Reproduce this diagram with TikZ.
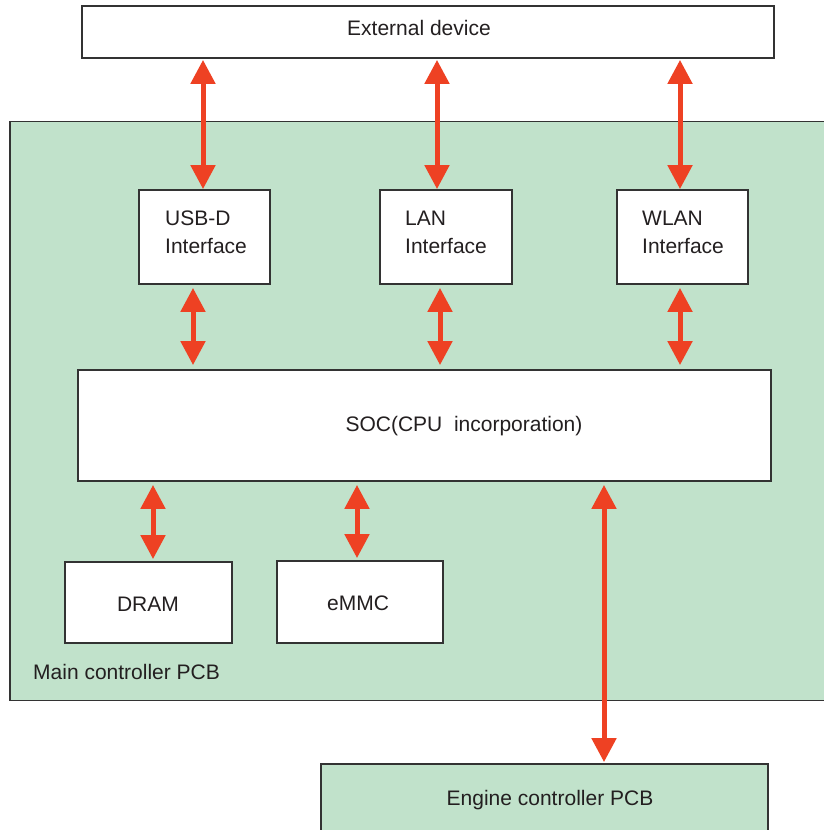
\documentclass[tikz,border=0pt]{standalone}
\usepackage{fontspec}
\setmainfont{Liberation Sans}
\usetikzlibrary{arrows.meta}
\definecolor{pcbgreen}{HTML}{C1E2CB}
\definecolor{arrred}{HTML}{EE4123}
\definecolor{edge}{HTML}{333333}
\definecolor{txt}{HTML}{231F20}
\tikzset{
  box/.style={draw=edge, line width=1.8pt, fill=white, rectangle, inner sep=0pt},
  pcb/.style={box, fill=pcbgreen},
  lbl/.style={text=txt, font=\fontsize{21}{28}\selectfont, inner sep=0pt},
  bus/.style={draw=arrred, line width=5pt, {Triangle[width=24pt,length=24pt]}-{Triangle[width=24pt,length=24pt]}}
}
\begin{document}
\begin{tikzpicture}[x=1pt,y=-1pt]
\clip (0,0) rectangle (824,830);
\fill[white] (0,0) rectangle (824,830);
% main controller PCB
\node[pcb, minimum width=820pt, minimum height=579pt] (main) at (420,411) {};
\node[lbl, anchor=west] (mainl) at (33,672) {Main controller PCB};
% engine controller PCB
\node[pcb, minimum width=447pt, minimum height=80pt] (eng) at (544.5,804) {};
\node[lbl] (engl) at (550,800) {Engine controller PCB};
% external device
\node[box, minimum width=692pt, minimum height=52pt] (ext) at (428,32) {};
\node[lbl] (extl) at (419,28) {External device};
% interfaces
\node[box, minimum width=131pt, minimum height=94pt] (usb) at (204.5,237) {};
\node[lbl, anchor=west, align=left] (usbl) at (165,232) {USB-D\\Interface};
\node[box, minimum width=132pt, minimum height=94pt] (lan) at (446,237) {};
\node[lbl, anchor=west, align=left] (lanl) at (405,232) {LAN\\Interface};
\node[box, minimum width=131pt, minimum height=94pt] (wlan) at (682.5,237) {};
\node[lbl, anchor=west, align=left] (wlanl) at (642,232) {WLAN\\Interface};
% SOC
\node[box, minimum width=693pt, minimum height=111pt] (soc) at (424.5,425.5) {};
\node[lbl] (socl) at (464,426) {SOC(CPU\ \ incorporation)};
% memory
\node[box, minimum width=167pt, minimum height=81pt] (dram) at (148.5,602.5) {};
\node[lbl] (draml) at (148,604) {DRAM};
\node[box, minimum width=166pt, minimum height=82pt] (emmc) at (360,602) {};
\node[lbl] (emmcl) at (358,603) {eMMC};
% buses
\draw[bus, shorten <=1pt] ([xshift=-1.5pt]usb.north |- ext.south) -- ([xshift=-1.5pt]usb.north);
\draw[bus, shorten <=1pt] ([xshift=-9pt]lan.north |- ext.south) -- ([xshift=-9pt]lan.north);
\draw[bus, shorten <=1pt] ([xshift=-2.5pt]wlan.north |- ext.south) -- ([xshift=-2.5pt]wlan.north);
\draw[bus, shorten <=3pt, shorten >=4pt] ([xshift=-11.5pt]usb.south) -- ([xshift=-11.5pt]usb.south |- soc.north);
\draw[bus, shorten <=3pt, shorten >=4pt] ([xshift=-6pt]lan.south) -- ([xshift=-6pt]lan.south |- soc.north);
\draw[bus, shorten <=3pt, shorten >=4pt] ([xshift=-2.5pt]wlan.south) -- ([xshift=-2.5pt]wlan.south |- soc.north);
\draw[bus, shorten <=3pt, shorten >=2pt] ([xshift=4.5pt]dram.north |- soc.south) -- ([xshift=4.5pt]dram.north);
\draw[bus, shorten <=3pt, shorten >=2pt] ([xshift=-3pt]emmc.north |- soc.south) -- ([xshift=-3pt]emmc.north);
\draw[bus, shorten <=3pt, shorten >=1pt] ([xshift=59.5pt]eng.north |- soc.south) -- ([xshift=59.5pt]eng.north);
\end{tikzpicture}
\end{document}
